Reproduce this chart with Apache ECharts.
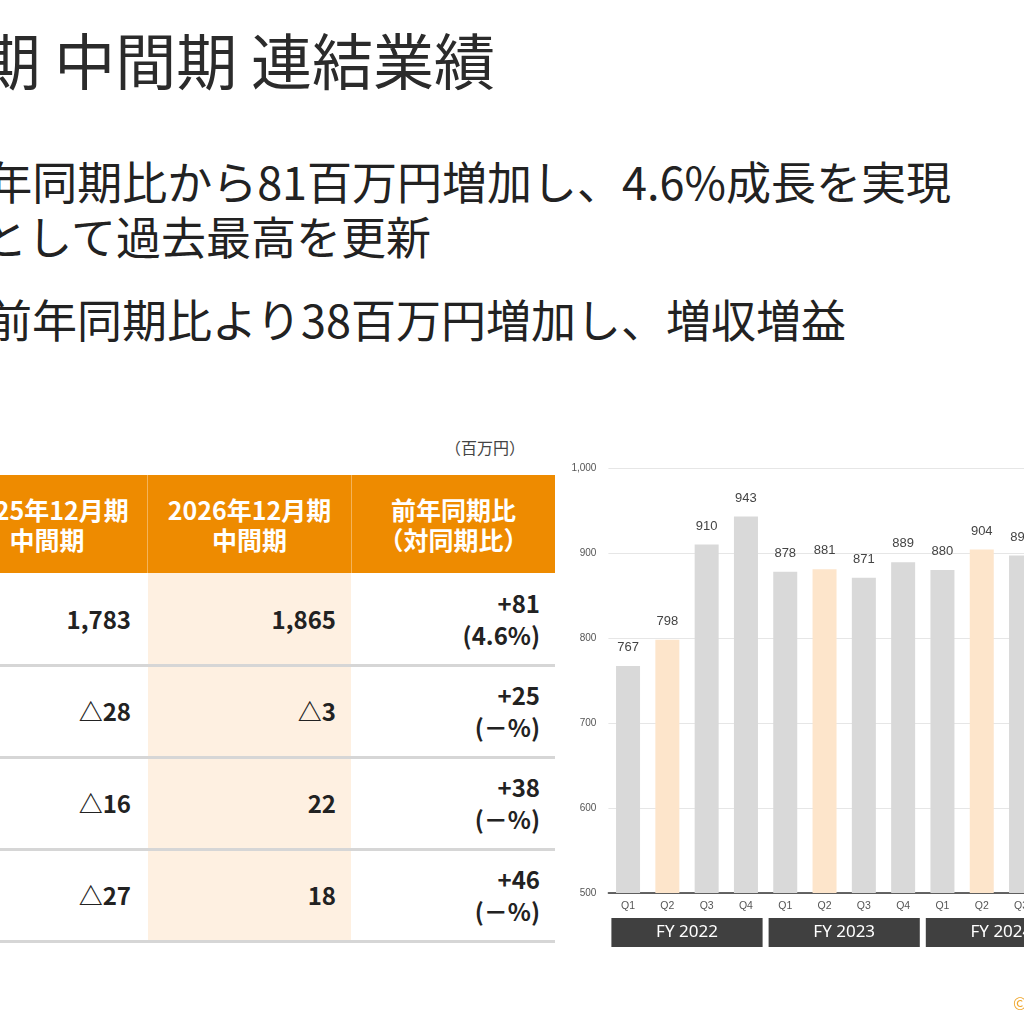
<!DOCTYPE html>
<html>
<head>
<meta charset="utf-8">
<script src="https://cdn.jsdelivr.net/npm/echarts@6/dist/echarts.min.js"></script>
<style>
  html, body { margin:0; padding:0; width:1024px; height:1024px; overflow:hidden; background:#fff; }
  body { position:relative; font-family:"Noto Sans CJK JP","Noto Sans",sans-serif; color:#262626; }
  .abs { position:absolute; white-space:nowrap; }
  #title { font-size:61px; line-height:61px; top:28px; right:529px; color:#2b2b2b; }
  .bullet { font-size:45px; line-height:45px; color:#222; }
  #unit { font-size:16px; line-height:16px; top:439px; right:499px; color:#444; }
  .hdr { position:absolute; top:475px; height:98px; background:#EE8B00; }
  .hcell { position:absolute; top:475px; height:98px; display:flex; align-items:center; justify-content:center;
           text-align:center; color:#fff; font-weight:bold; font-size:25px; line-height:30px; }
  .val { position:absolute; text-align:right; font-weight:bold; font-size:24px; line-height:32px; color:#222;
         display:flex; flex-direction:column; justify-content:center; align-items:flex-end; }
  .sep { position:absolute; left:0; width:555px; height:3px; background:#d6d6d6; }
  #chart { position:absolute; left:560px; top:440px; width:540px; height:560px; }
</style>
</head>
<body>
<div id="title" class="abs">期 中間期 連結業績</div>
<div id="b1" class="abs bullet" style="top:158px; right:73px;">年同期比から81百万円増加し、4.6%成長を実現</div>
<div id="b2" class="abs bullet" style="top:213px; right:593px;">として過去最高を更新</div>
<div id="b3" class="abs bullet" style="top:296px; right:178px;">前年同期比より38百万円増加し、増収増益</div>
<div id="unit" class="abs">（百万円）</div>
<div id="table"></div>
<div id="chart"></div>
<div class="abs" style="left:1013px; top:990px; font-size:17px; color:#F0A830;">©</div>
<script>
// ---- table data ----
const tableHeaders = [['2025年12月期','中間期'], ['2026年12月期','中間期'], ['前年同期比','（対同期比）']];
const prevValues = ['1,783', '△28', '△16', '△27'];
const curValues  = ['1,865', '△3', '22', '18'];
const diffValues = ['+81', '+25', '+38', '+46'];
const diffPct    = ['(4.6%)', '(－%)', '(－%)', '(－%)'];

// ---- chart data ----
const quarterLabels = ['Q1','Q2','Q3','Q4','Q1','Q2','Q3','Q4','Q1','Q2','Q3'];
const salesValues   = [767, 798, 910, 943, 878, 881, 871, 889, 880, 904, 897];
const fiscalYears   = ['FY 2022', 'FY 2023', 'FY 2024'];
const fiscalStarts  = [0, 4, 8];
const yMin = 500, yMax = 1000, yInterval = 100;

// ---- build table ----
(function buildTable(){
  const t = document.getElementById('table');
  const cols = [[-53,147],[148,351],[352,555]];
  const padR = [16, 15, 15];
  let h = '';
  h += '<div class="hdr" style="left:0;width:555px;"></div>';
  h += '<div style="position:absolute;left:148px;width:203px;top:573px;height:368px;background:#FEF0E1;"></div>';
  h += '<div style="position:absolute;left:147px;width:1px;top:475px;height:98px;background:rgba(255,255,255,0.35);"></div>';
  h += '<div style="position:absolute;left:351px;width:1px;top:475px;height:98px;background:rgba(255,255,255,0.35);"></div>';
  tableHeaders.forEach((lines, i) => {
    h += '<div class="hcell" style="left:'+cols[i][0]+'px;width:'+(cols[i][1]-cols[i][0])+'px;"><div>'+lines.join('<br>')+'</div></div>';
  });
  for (let r = 0; r < prevValues.length; r++) {
    const top = 573 + r*92;
    const rowVals = [[prevValues[r]], [curValues[r]], [diffValues[r], diffPct[r]]];
    rowVals.forEach((v, i) => {
      h += '<div class="val" style="left:'+cols[i][0]+'px;width:'+(cols[i][1]-cols[i][0]-padR[i])+'px;top:'+top+'px;height:92px;">'
         + v.map(s => '<div>'+s+'</div>').join('') + '</div>';
    });
    h += '<div class="sep" style="top:'+(top+91)+'px;"></div>';
  }
  t.innerHTML = h;
})();

// ---- chart ----
const chart = echarts.init(document.getElementById('chart'), null, {renderer:'canvas'});
const bandW = 39.3;
chart.setOption({
  animation: false,
  grid: { left: 48.4, top: 28, height: 425, width: bandW * quarterLabels.length, containLabel: false },
  xAxis: {
    type: 'category',
    data: quarterLabels,
    axisLine: { show: true, lineStyle: { color: '#333', width: 1.5 } },
    axisTick: { show: false },
    axisLabel: { color: '#555', fontSize: 10.5, fontFamily: 'Liberation Sans, Arial', margin: 8 }
  },
  yAxis: {
    type: 'value', min: yMin, max: yMax, interval: yInterval,
    axisLine: { show: false }, axisTick: { show: false },
    axisLabel: { color: '#555', fontSize: 10, fontFamily: 'Liberation Sans, Arial', margin: 12,
                 formatter: v => v.toLocaleString('en-US') },
    splitLine: { lineStyle: { color: '#e6e6e6', width: 1 } }
  },
  series: [
    {
      type: 'bar',
      data: salesValues,
      barWidth: 24,
      itemStyle: { color: p => (p.dataIndex % 4 === 1 ? '#FDE5CB' : '#D9D9D9') },
      label: { show: true, position: 'top', distance: 12, color: '#444', fontSize: 13,
               fontFamily: 'Liberation Sans, Arial' }
    },
    {
      type: 'custom',
      clip: false,
      silent: true,
      data: fiscalStarts.map(s => [s, yMin]),
      renderItem: function (params, api) {
        const c = api.coord([api.value(0), yMin]);
        const bw = api.size([1, 0])[0];
        const x0 = c[0] - bw / 2 + 3;
        const w = 4 * bw - 6;
        return {
          type: 'group',
          children: [
            { type: 'rect', shape: { x: x0, y: c[1] + 25, width: w, height: 29 }, style: { fill: '#404040' } },
            { type: 'text', x: x0 + w / 2, y: c[1] + 39.5,
              style: { text: fiscalYears[params.dataIndex], fill: '#fff', font: '17px "Noto Sans", "Open Sans", sans-serif',
                       align: 'center', verticalAlign: 'middle' } }
          ]
        };
      }
    }
  ]
});
</script>
</body>
</html>
